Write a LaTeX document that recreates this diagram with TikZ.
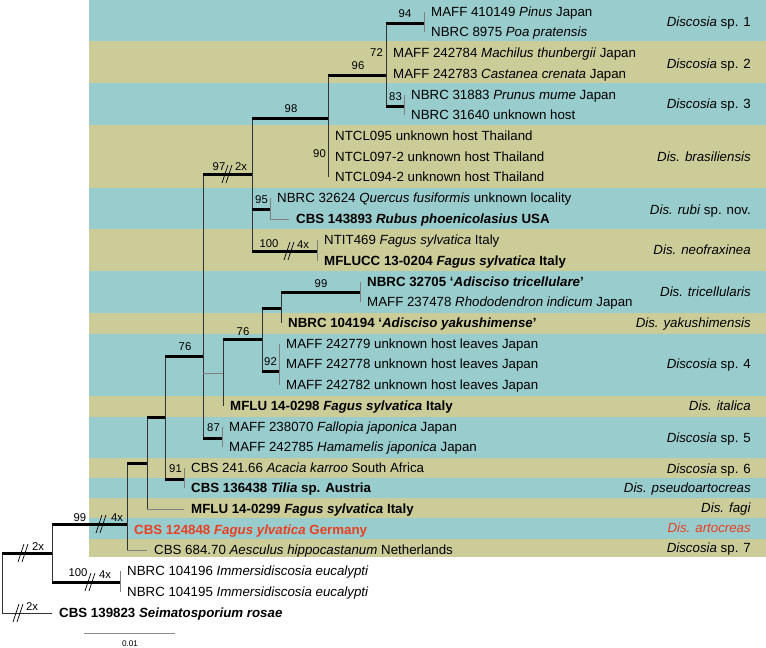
\documentclass[tikz,border=0pt]{standalone}
\usepackage{fontspec}
\setmainfont{Liberation Sans}
\usetikzlibrary{positioning, calc}

\definecolor{bandBlue}{RGB}{153,204,204}
\definecolor{bandTan}{RGB}{204,204,153}
\definecolor{typeRed}{RGB}{232,64,37}

\newcommand{\leafsize}{\fontsize{13.3}{15}\selectfont}
\newcommand{\suppsize}{\fontsize{11.3}{13}\selectfont}

\begin{document}
\begin{tikzpicture}[x=1pt, y=-1pt,
		leaf/.style={anchor=west, inner xsep=7pt, inner ysep=0pt, text height=11pt, text depth=1.7pt, font=\leafsize},
		clade/.style={anchor=east, inner sep=0pt, text height=11pt, text depth=1.7pt, font=\leafsize},
		supp/.style={inner sep=0pt, text height=8pt, text depth=0pt, font=\suppsize},
		strong/.style={line width=3pt, black},
		stem/.style={line width=0.9pt, black!80},
		tipline/.style={line width=0.9pt, black!50},
		cut/.pic={\draw[line width=0.7pt] (-5,9) -- (1,-9); \draw[line width=0.7pt] (-1,9) -- (5,-9);}]
		
		\useasboundingbox (0,0) rectangle (766,648);
		
		%Coloured bands behind the species
		\fill[bandBlue] (89,0) rectangle (766,41);
		\fill[bandTan] (89,41) rectangle (766,83);
		\fill[bandBlue] (89,83) rectangle (766,125);
		\fill[bandTan] (89,125) rectangle (766,188);
		\fill[bandBlue] (89,188) rectangle (766,229);
		\fill[bandTan] (89,229) rectangle (766,271);
		\fill[bandBlue] (89,271) rectangle (766,313);
		\fill[bandTan] (89,313) rectangle (766,334);
		\fill[bandBlue] (89,334) rectangle (766,396);
		\fill[bandTan] (89,396) rectangle (766,417);
		\fill[bandBlue] (89,417) rectangle (766,458);
		\fill[bandTan] (89,458) rectangle (766,478);
		\fill[bandBlue] (89,478) rectangle (766,498);
		\fill[bandTan] (89,498) rectangle (766,518);
		\fill[bandBlue] (89,518) rectangle (766,539);
		\fill[bandTan] (89,539) rectangle (766,557);
		
		%Internal nodes of the tree
		\coordinate (rootNode) at (2,583);
		\coordinate (ingroupNode) at (52,553);
		\coordinate (discosiaNode) at (127,524);
		\coordinate (crownNode) at (147,463);
		\coordinate (upperNode) at (165,417);
		\coordinate (mainNode) at (203,356);
		\coordinate (pseudoNode) at (184,479);
		\coordinate (brasNode) at (252,174);
		\coordinate (brasCrown) at (328,118);
		\coordinate (spOneThree) at (386,75);
		\coordinate (spOneNode) at (424,23);
		\coordinate (spThreeNode) at (404,106);
		\coordinate (rubiNode) at (270,209);
		\coordinate (neofraxNode) at (317,251);
		\coordinate (italicaNode) at (223,373);
		\coordinate (adiscisoNode) at (262,339);
		\coordinate (yakuNode) at (281,308);
		\coordinate (tricelNode) at (360,292);
		\coordinate (spFourNode) at (279,371);
		\coordinate (spFiveNode) at (222,438);
		\coordinate (immersNode) at (120,582);
		
		%Strains
		\node[leaf] (tPinus) at (424,12) {MAFF 410149 \textit{Pinus} Japan};
		\node[leaf] (tPoa) at (424,32) {NBRC 8975 \textit{Poa pratensis}};
		\node[leaf] (tMachilus) at (386,53) {MAFF 242784 \textit{Machilus thunbergii} Japan};
		\node[leaf] (tCastanea) at (386,74) {MAFF 242783 \textit{Castanea crenata} Japan};
		\node[leaf] (tPrunus) at (404,95) {NBRC 31883 \textit{Prunus mume} Japan};
		\node[leaf] (tHostA) at (404,115) {NBRC 31640 unknown host};
		\node[leaf] (tNtclA) at (328,136) {NTCL095 unknown host Thailand};
		\node[leaf] (tNtclB) at (328,157) {NTCL097-2 unknown host Thailand};
		\node[leaf] (tNtclC) at (328,177) {NTCL094-2 unknown host Thailand};
		\node[leaf] (tQuercus) at (270,198) {NBRC 32624 \textit{Quercus fusiformis} unknown locality};
		\node[leaf] (tRubus) at (289,219) {\bfseries CBS 143893 \textit{Rubus phoenicolasius} USA};
		\node[leaf] (tNtit) at (317,240) {NTIT469 \textit{Fagus sylvatica} Italy};
		\node[leaf] (tMflucc) at (317,261) {\bfseries MFLUCC 13-0204 \textit{Fagus sylvatica} Italy};
		\node[leaf] (tTricell) at (360,282) {\bfseries NBRC 32705 ‘\textit{Adisciso tricellulare}’};
		\node[leaf] (tRhodo) at (360,302) {MAFF 237478 \textit{Rhododendron indicum} Japan};
		\node[leaf] (tYaku) at (281,323) {\bfseries NBRC 104194 ‘\textit{Adisciso yakushimense}’};
		\node[leaf] (tLeavesA) at (279,344) {MAFF 242779 unknown host leaves Japan};
		\node[leaf] (tLeavesB) at (279,364) {MAFF 242778 unknown host leaves Japan};
		\node[leaf] (tLeavesC) at (279,385) {MAFF 242782 unknown host leaves Japan};
		\node[leaf] (tItalica) at (223,406) {\bfseries MFLU 14-0298 \textit{Fagus sylvatica} Italy};
		\node[leaf] (tFallopia) at (222,427) {MAFF 238070 \textit{Fallopia japonica} Japan};
		\node[leaf] (tHamamelis) at (222,447) {MAFF 242785 \textit{Hamamelis japonica} Japan};
		\node[leaf] (tAcacia) at (184,468) {CBS 241.66 \textit{Acacia karroo} South Africa};
		\node[leaf] (tTilia) at (184,488) {\bfseries CBS 136438 \textit{Tilia} sp. Austria};
		\node[leaf] (tFagi) at (184,509) {\bfseries MFLU 14-0299 \textit{Fagus sylvatica} Italy};
		\node[leaf, text=typeRed] (tArtocreas) at (127,530) {\bfseries CBS 124848 \textit{Fagus ylvatica} Germany};
		\node[leaf] (tAesculus) at (147,550) {CBS 684.70 \textit{Aesculus hippocastanum} Netherlands};
		\node[leaf] (tImmersA) at (120,571) {NBRC 104196 \textit{Immersidiscosia eucalypti}};
		\node[leaf] (tImmersB) at (120,592) {NBRC 104195 \textit{Immersidiscosia eucalypti}};
		\node[leaf] (tSeimato) at (52,613) {\bfseries CBS 139823 \textit{Seimatosporium rosae}};
		
		%Vertical lines of the internal nodes
		\draw[stem] (rootNode |- ingroupNode) -- (rootNode |- tSeimato);
		\draw[stem] (ingroupNode |- discosiaNode) -- (ingroupNode |- immersNode);
		\draw[stem] (discosiaNode |- crownNode) -- (discosiaNode |- tAesculus);
		\draw[stem] (crownNode |- upperNode) -- (crownNode |- tFagi);
		\draw[stem] (upperNode |- mainNode) -- (upperNode |- pseudoNode);
		\draw[stem] (mainNode |- brasNode) -- (mainNode |- spFiveNode);
		\draw[stem] (brasNode |- brasCrown) -- (brasNode |- neofraxNode);
		\draw[stem] (brasCrown |- spOneThree) -- (brasCrown |- tNtclC);
		\draw[stem] (spOneThree |- spOneNode) -- (spOneThree |- spThreeNode);
		\draw[stem] (italicaNode |- adiscisoNode) -- (italicaNode |- tItalica);
		\draw[stem] (adiscisoNode |- yakuNode) -- (adiscisoNode |- spFourNode);
		\draw[stem] (yakuNode |- tricelNode) -- (yakuNode |- tYaku);
		
		%Vertical lines at the tips
		\draw[tipline] (spOneNode |- tPinus) -- (spOneNode |- tPoa);
		\draw[tipline] (spThreeNode |- tPrunus) -- (spThreeNode |- tHostA);
		\draw[tipline] (rubiNode |- tQuercus) -- (rubiNode |- tRubus);
		\draw[tipline] (neofraxNode |- tNtit) -- (neofraxNode |- tMflucc);
		\draw[tipline] (tricelNode |- tTricell) -- (tricelNode |- tRhodo);
		\draw[tipline] (spFourNode |- tLeavesA) -- (spFourNode |- tLeavesC);
		\draw[tipline] (spFiveNode |- tFallopia) -- (spFiveNode |- tHamamelis);
		\draw[tipline] (pseudoNode |- tAcacia) -- (pseudoNode |- tTilia);
		\draw[tipline] (immersNode |- tImmersA) -- (immersNode |- tImmersB);
		
		%Supported branches
		\draw[strong] (rootNode |- ingroupNode) -- (ingroupNode);
		\draw[strong] (ingroupNode |- discosiaNode) -- (discosiaNode);
		\draw[strong] (ingroupNode |- immersNode) -- (immersNode);
		\draw[strong] (discosiaNode |- crownNode) -- (crownNode);
		\draw[strong] (crownNode |- upperNode) -- (upperNode);
		\draw[strong] (upperNode |- mainNode) -- (mainNode);
		\draw[strong] (upperNode |- pseudoNode) -- (pseudoNode);
		\draw[strong] (mainNode |- brasNode) -- (brasNode);
		\draw[strong] (mainNode |- spFiveNode) -- (spFiveNode);
		\draw[strong] (brasNode |- brasCrown) -- (brasCrown);
		\draw[strong] (brasNode |- rubiNode) -- (rubiNode);
		\draw[strong] (brasNode |- neofraxNode) -- (neofraxNode);
		\draw[strong] (brasCrown |- spOneThree) -- (spOneThree);
		\draw[strong] (spOneThree |- spOneNode) -- (spOneNode);
		\draw[strong] (spOneThree |- spThreeNode) -- (spThreeNode);
		\draw[strong] (italicaNode |- adiscisoNode) -- (adiscisoNode);
		\draw[strong] (adiscisoNode |- yakuNode) -- (yakuNode);
		\draw[strong] (adiscisoNode |- spFourNode) -- (spFourNode);
		\draw[strong] (yakuNode |- tricelNode) -- (tricelNode);
		
		%Weak branches
		\draw[tipline] (mainNode |- italicaNode) -- (italicaNode);
		\draw[tipline] (rubiNode |- tRubus) -- (tRubus.west);
		\draw[tipline] (crownNode |- tFagi) -- (tFagi.west);
		\draw[tipline] (discosiaNode |- tAesculus) -- (tAesculus.west);
		\draw[stem] (rootNode |- tSeimato) -- (tSeimato.west);
		
		%Shortened branches
		\pic at (23,553) {cut};
		\pic at (18,613) {cut};
		\pic at (101,524) {cut};
		\pic at (90,582) {cut};
		\pic at (227,174) {cut};
		\pic at (289,251) {cut};
		
		%Support values
		\node[supp] (s94) at (405,13) {94};
		\node[supp, anchor=east] (s72) at (383,52) {72};
		\node[supp] (s96) at (358,65) {96};
		\node[supp, anchor=east] (s83) at (402,96) {83};
		\node[supp] (s98) at (291,108) {98};
		\node[supp, anchor=east] (s90) at (326,153) {90};
		\node[supp] (s97) at (219,166) {97};
		\node[supp] (x97) at (241,166) {2x};
		\node[supp, anchor=east] (s95) at (268,199) {95};
		\node[supp] (s100n) at (269,243) {100};
		\node[supp] (x100n) at (303,244) {4x};
		\node[supp] (s99t) at (321,283) {99};
		\node[supp] (s76a) at (243,331) {76};
		\node[supp] (s76m) at (185,346) {76};
		\node[supp, anchor=east] (s92) at (277,361) {92};
		\node[supp, anchor=east] (s87) at (220,427) {87};
		\node[supp, anchor=east] (s91) at (182,468) {91};
		\node[supp] (s99d) at (80,517) {99};
		\node[supp] (x99d) at (117,517) {4x};
		\node[supp] (xRootA) at (38,546) {2x};
		\node[supp] (s100i) at (78,572) {100};
		\node[supp] (x100i) at (105,574) {4x};
		\node[supp] (xRootB) at (32,606) {2x};
		
		%Species names
		\node[clade] (cSpOne) at (751,22) {\textit{Discosia} sp. 1};
		\node[clade] (cSpTwo) at (751,64) {\textit{Discosia} sp. 2};
		\node[clade] (cSpThree) at (751,104) {\textit{Discosia} sp. 3};
		\node[clade] (cBras) at (751,157) {\textit{Dis. brasiliensis}};
		\node[clade] (cRubi) at (751,210) {\textit{Dis. rubi} sp. nov.};
		\node[clade] (cNeofrax) at (751,250) {\textit{Dis. neofraxinea}};
		\node[clade] (cTricell) at (751,292) {\textit{Dis. tricellularis}};
		\node[clade] (cYaku) at (751,323) {\textit{Dis. yakushimensis}};
		\node[clade] (cSpFour) at (751,364) {\textit{Discosia} sp. 4};
		\node[clade] (cItalica) at (751,406) {\textit{Dis. italica}};
		\node[clade] (cSpFive) at (751,438) {\textit{Discosia} sp. 5};
		\node[clade] (cSpSix) at (751,469) {\textit{Discosia} sp. 6};
		\node[clade] (cPseudo) at (751,488) {\textit{Dis. pseudoartocreas}};
		\node[clade] (cFagi) at (751,508) {\textit{Dis. fagi}};
		\node[clade, text=typeRed] (cArtocreas) at (751,528) {\textit{Dis. artocreas}};
		\node[clade] (cSpSeven) at (751,548) {\textit{Discosia} sp. 7};
		
		%Scale bar
		\coordinate (scaleLeft) at (84,633);
		\coordinate (scaleRight) at (175,633);
		\draw[line width=0.9pt, black!45] (scaleLeft) -- (scaleRight);
		\node[inner sep=0pt, font=\fontsize{8.2}{10}\selectfont] (scaleText) at (130,644) {0.01};
		
	\end{tikzpicture}
\end{document}
